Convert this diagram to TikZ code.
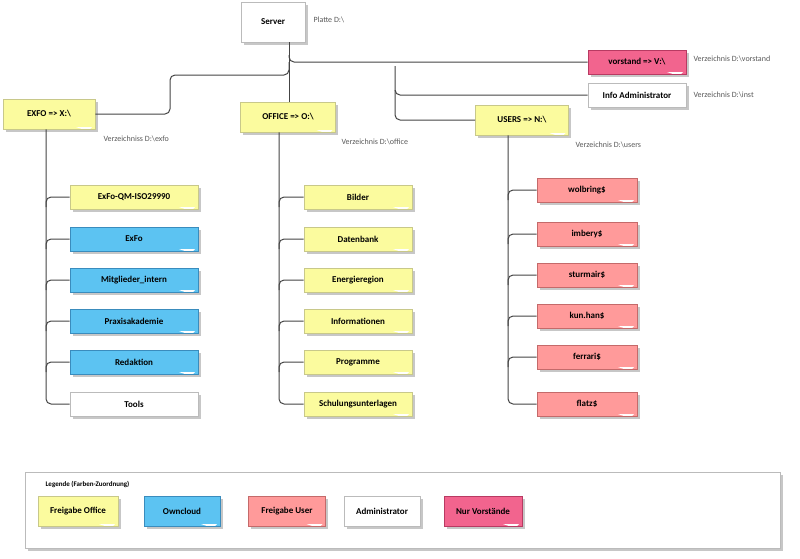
\documentclass[tikz,border=0pt]{standalone}
\usepackage{fontspec}
\setmainfont{Carlito}
\definecolor{yf}{HTML}{FBFB9E}\definecolor{yd}{HTML}{C8C88A}
\definecolor{bf}{HTML}{5CC3F2}\definecolor{bd}{HTML}{3A8CBD}
\definecolor{sf}{HTML}{FF9A9A}\definecolor{sd}{HTML}{C46A6A}
\definecolor{pf}{HTML}{F2648E}\definecolor{pd}{HTML}{B83A62}
\definecolor{wd}{HTML}{BBBBBB}\definecolor{ln}{HTML}{444444}
\tikzset{
 shad/.style={preaction={draw=none, fill=black!22, transform canvas={xshift=2.5pt,yshift=-2.5pt}}},
 box/.style={draw=#1d, fill=#1f, line width=0.8pt, minimum height=24pt, font=\bfseries\fontsize{9}{10}\selectfont, inner sep=2pt, shad,
  path picture={\fill[white] ([xshift=-3pt,yshift=2pt]path picture bounding box.south east) -- ++(-16pt,0) -- ++(12pt,-4pt) -- cycle;}},
 lab/.style={font=\fontsize{8}{9}\selectfont, text=black!65, anchor=west},
 con/.style={draw=ln, line width=1pt, rounded corners=5pt},
}
\colorlet{wf}{white}
\begin{document}
\begin{tikzpicture}[x=1pt,y=-1pt]
\useasboundingbox (0,0) rectangle (800,558);
% legend frame
\draw[wd, fill=white, line width=0.8pt, shad] (25,472) rectangle (780,548);
\node[anchor=west, font=\bfseries\fontsize{7}{8}\selectfont] (legt) at (42,484) {Legende (Farben-Zuordnung)};
\node[box=y, minimum width=80pt, minimum height=30pt] (l1) at (78,511) {Freigabe Office};
\node[box=b, minimum width=76pt, minimum height=30pt] (l2) at (182,511) {Owncloud};
\node[box=s, minimum width=77pt, minimum height=30pt] (l3) at (287,511) {Freigabe User};
\node[box=w, minimum width=76pt, minimum height=30pt] (l4) at (382,511) {Administrator};
\node[box=p, minimum width=78pt, minimum height=30pt] (l5) at (483,511) {Nur Vorstände};

% main nodes
\node[box=w, minimum width=64pt, minimum height=40pt] (srv) at (273,22) {Server};
\node[lab] (srvl) at (310,20) {Platte D:\textbackslash};
\node[box=p, minimum width=98pt] (vor) at (637,62) {vorstand => V:\textbackslash};
\node[lab] (vorl) at (690,59) {Verzeichnis D:\textbackslash vorstand};
\node[box=w, minimum width=98pt] (adm) at (637,95) {Info Administrator};
\node[lab] (adml) at (690,95) {Verzeichnis D:\textbackslash inst};
\node[box=y, minimum width=92pt, minimum height=30pt] (exfo) at (49,114) {EXFO => X:\textbackslash};
\node[lab] (exfol) at (100,139) {Verzeichniss D:\textbackslash exfo};
\node[box=y, minimum width=95pt, minimum height=30pt] (off) at (288,117) {OFFICE => O:\textbackslash};
\node[lab] (offl) at (338,142) {Verzeichnis D:\textbackslash office};
\node[box=y, minimum width=93pt, minimum height=30pt] (usr) at (522,120) {USERS => N:\textbackslash};
\node[lab] (usrl) at (572,145) {Verzeichnis D:\textbackslash users};

% connectors from server
\draw[con] (srv.south -| 289,0) -- (off.north -| 289,0);
\draw[con] (289,55) |- (vor.west);
\draw[con] (289,62) |- (170,75) |- (exfo.east);
\draw[con] (395,66) |- (adm.west);
\draw[con] (395,90) |- (usr.west);

% EXFO children
\foreach \n/\t/\c/\y in {e1/ExFo-QM-ISO29990/y/197, e2/ExFo/b/239, e3/Mitglieder\_intern/b/280, e4/Praxisakademie/b/321, e5/Redaktion/b/362, e6/Tools/w/404}{
  \node[box=\c, minimum width=128pt] (\n) at (134,\y) {\t};
}
\draw[con] (exfo.south -| 46,0) |- (e6.west);
\foreach \n in {e1,e2,e3,e4,e5}{\draw[con] ([yshift=-10pt]\n.west -| 46,0) |- (\n.west);}

% OFFICE children
\foreach \n/\t/\y in {o1/Bilder/197, o2/Datenbank/239, o3/Energieregion/280, o4/Informationen/321, o5/Programme/362, o6/Schulungsunterlagen/404}{
  \node[box=y, minimum width=108pt] (\n) at (358,\y) {\t};
}
\draw[con] (off.south -| 279,0) |- (o6.west);
\foreach \n in {o1,o2,o3,o4,o5}{\draw[con] ([yshift=-10pt]\n.west -| 279,0) |- (\n.west);}

% USERS children
\foreach \n/\t/\y in {u1/wolbring\$/190, u2/imbery\$/234, u3/sturmair\$/275, u4/kun.han\$/316, u5/ferrari\$/357, u6/flatz\$/404}{
  \node[box=s, minimum width=100pt] (\n) at (587,\y) {\t};
}
\draw[con] (usr.south -| 508,0) |- (u6.west);
\foreach \n in {u1,u2,u3,u4,u5}{\draw[con] ([yshift=-10pt]\n.west -| 508,0) |- (\n.west);}
\end{tikzpicture}
\end{document}
